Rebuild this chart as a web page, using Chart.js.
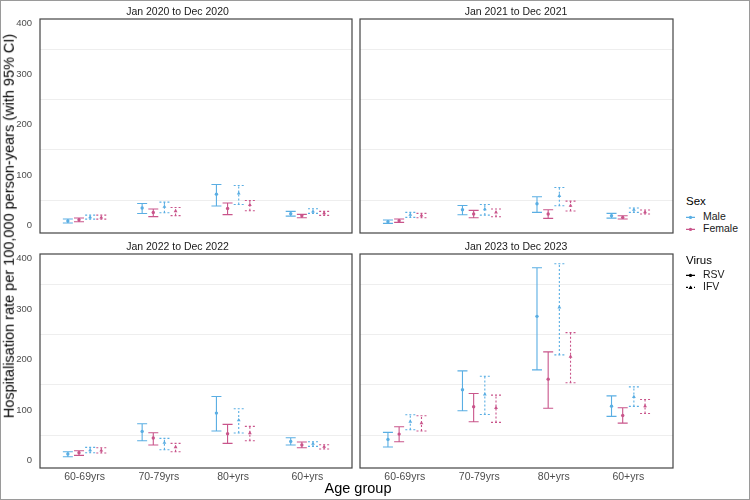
<!DOCTYPE html>
<html><head><meta charset="utf-8">
<script src="https://cdn.jsdelivr.net/npm/chart.js@4.4.1/dist/chart.umd.min.js"></script>
<style>
html,body{margin:0;padding:0;background:#fff;}
#wrap{position:relative;width:750px;height:500px;overflow:hidden;font-family:"Liberation Sans",Arial,sans-serif;background:#fff;}
.frame{position:absolute;left:0;top:0;width:750px;height:500px;box-sizing:border-box;border:1px solid #9a9a9a;pointer-events:none;}
.pc{position:absolute;}
.txt{position:absolute;white-space:nowrap;line-height:1;color:#000;}
.lg{position:absolute;left:686px;white-space:nowrap;font-size:10.5px;color:#1a1a1a;line-height:1;}
.lg svg{vertical-align:middle;margin-right:8px;}
</style></head><body>
<div id="wrap">
  <div class="pc" style="left:0px;top:0px;"><canvas id="c0" width="356" height="248"></canvas></div>
  <div class="pc" style="left:356px;top:0px;"><canvas id="c1" width="321" height="248"></canvas></div>
  <div class="pc" style="left:0px;top:234px;"><canvas id="c2" width="356" height="248"></canvas></div>
  <div class="pc" style="left:356px;top:234px;"><canvas id="c3" width="321" height="248"></canvas></div>
  <div class="txt" id="ytitle" style="font-size:14.5px;left:9px;top:226px;transform:translate(-50%,-50%) rotate(-90deg);">Hospitalisation rate per 100,000 person-years (with 95% CI)</div>
  <div class="txt" style="font-size:14.5px;left:358px;top:488px;transform:translate(-50%,-50%);">Age group</div>
  <div id="legend"></div>
  <div class="frame"></div>
</div>
<script>
// ---------- data (index: [period][age group]) ----------
const categories = ['60-69yrs', '70-79yrs', '80+yrs', '60+yrs'];
const periods = ['Jan 2020 to Dec 2020', 'Jan 2021 to Dec 2021', 'Jan 2022 to Dec 2022', 'Jan 2023 to Dec 2023'];
const yTickLabels = [0, 100, 200, 300, 400];

const rsvMaleEst   = [[9.2, 35, 62.5, 23.7], [7.9, 31.6, 43.4, 19.7], [13.2, 58, 94.3, 38.2], [42.2, 140.4, 286, 108]];
const rsvMaleLo    = [[5.3, 24, 39, 19], [4.6, 21.7, 26.3, 15], [7.9, 39.5, 58.7, 31], [27, 98.9, 180, 87.7]];
const rsvMaleHi    = [[13.2, 44, 81.6, 28.3], [11.2, 40, 57.2, 24.3], [17.8, 73.2, 127.2, 45.5], [56, 178, 382.3, 128.5]];
const rsvFemaleEst = [[11.8, 26, 34, 19.7], [9.9, 23, 23, 16.4], [15.8, 44.8, 53.4, 31], [52.7, 106.8, 161.5, 89.6]];
const rsvFemaleLo  = [[7.9, 18, 22, 15.8], [6.6, 15.8, 14.5, 13.2], [10.5, 31, 34.3, 25.7], [37.6, 77.1, 104, 74.5]];
const rsvFemaleHi  = [[15.1, 33, 45, 22.4], [13.2, 30.3, 31.6, 19.7], [19.8, 55.4, 71.9, 36.9], [67.2, 133.2, 215.6, 104.8]];
const ifvMaleEst   = [[17, 37.5, 64, 28.3], [21.7, 33, 59.2, 31.6], [21, 35.6, 80.4, 33.6], [77.1, 131.2, 303.9, 126.6]];
const ifvMaleLo    = [[13, 25.7, 42, 24.3], [16.4, 21, 39.5, 26.3], [15.8, 21.8, 54.7, 28.3], [61.3, 91.6, 209.6, 107.5]];
const ifvMaleHi    = [[21, 46.7, 79.6, 33.5], [26.3, 42, 75.7, 34.9], [26.4, 44.2, 102.8, 37.6], [91, 167.4, 390.2, 146.3]];
const ifvFemaleEst = [[16.5, 29, 41.4, 25], [20.4, 26.3, 39.5, 27], [20.4, 27, 54.7, 27.7], [74.5, 104.8, 206.3, 108.1]];
const ifvFemaleLo  = [[13, 20, 29.6, 20.4], [15.8, 17.8, 29, 23], [15.2, 17.8, 39.6, 23], [58.7, 75.8, 154.3, 93.6]];
const ifvFemaleHi  = [[21, 36, 50, 28.3], [24.3, 33, 48.7, 31], [25.7, 34.3, 67.9, 31.6], [89, 129.9, 253.8, 121.3]];

// ---------- styles ----------
const FONT = '"Liberation Sans", Arial, sans-serif';
const sexColors = { Male: '#5aaee3', Female: '#c9558b' };
const virusDash = { RSV: [], IFV: [2, 2] };
const virusPoint = { RSV: 'circle', IFV: 'triangle' };
const series = [
  { sex: 'Male',   virus: 'RSV', est: rsvMaleEst,   lo: rsvMaleLo,   hi: rsvMaleHi },
  { sex: 'Female', virus: 'RSV', est: rsvFemaleEst, lo: rsvFemaleLo, hi: rsvFemaleHi },
  { sex: 'Male',   virus: 'IFV', est: ifvMaleEst,   lo: ifvMaleLo,   hi: ifvMaleHi },
  { sex: 'Female', virus: 'IFV', est: ifvFemaleEst, lo: ifvFemaleLo, hi: ifvFemaleHi }
];
const dodgeWidth = 0.6;
const CAP = 5;

const errorBarPlugin = {
  id: 'errorBars',
  beforeDatasetsDraw(chart) {
    const { ctx, chartArea, scales: { x, y } } = chart;
    ctx.save();
    ctx.beginPath();
    ctx.rect(chartArea.left, chartArea.top, chartArea.width, chartArea.height);
    ctx.clip();
    chart.data.datasets.forEach(ds => {
      ctx.strokeStyle = ds.borderColor;
      ctx.lineWidth = 1.1;
      ctx.setLineDash(ds.errDash);
      ds.data.forEach(p => {
        const px = x.getPixelForValue(p.x);
        const pl = y.getPixelForValue(p.lo);
        const ph = y.getPixelForValue(p.hi);
        ctx.beginPath();
        ctx.moveTo(px, pl); ctx.lineTo(px, ph);
        ctx.moveTo(px - CAP, pl); ctx.lineTo(px + CAP, pl);
        ctx.moveTo(px - CAP, ph); ctx.lineTo(px + CAP, ph);
        ctx.stroke();
      });
    });
    ctx.restore();
  }
};
const frameBoxPlugin = {
  id: 'frameBox',
  afterDraw(chart) {
    const { ctx, chartArea: a } = chart;
    ctx.save();
    ctx.strokeStyle = '#444';
    ctx.lineWidth = 1.2;
    ctx.strokeRect(a.left, a.top, a.right - a.left, a.bottom - a.top);
    ctx.restore();
  }
};

function buildChart(id, p, showY, showX) {
  const datasets = series.map((s, k) => ({
    label: s.sex + ' ' + s.virus,
    data: categories.map((c, i) => ({
      x: i + 1 + (k - (series.length - 1) / 2) * (dodgeWidth / series.length),
      y: s.est[p][i], lo: s.lo[p][i], hi: s.hi[p][i]
    })),
    borderColor: sexColors[s.sex],
    backgroundColor: sexColors[s.sex],
    pointStyle: virusPoint[s.virus],
    pointRadius: s.virus === 'IFV' ? 2.2 : 1.7,
    pointBorderWidth: 0,
    showLine: false,
    errDash: virusDash[s.virus]
  }));
  const minor = yTickLabels.slice(0, -1).map((v, i) => (v + yTickLabels[i + 1]) / 2);
  return new Chart(document.getElementById(id), {
    type: 'scatter',
    data: { datasets },
    plugins: [errorBarPlugin, frameBoxPlugin],
    options: {
      responsive: false,
      animation: false,
      events: [],
      layout: { padding: { left: 0, right: 1, top: 0, bottom: 0 } },
      plugins: {
        legend: { display: false },
        tooltip: { enabled: false },
        title: {
          display: true, text: periods[p], color: '#1a1a1a',
          font: { family: FONT, size: 10.5, weight: 'normal' },
          padding: showX ? { top: 6.4, bottom: 1 } : { top: 5.6, bottom: 0.8 }
        }
      },
      scales: {
        x: {
          type: 'linear', min: 0.4, max: 4.6,
          afterBuildTicks: s => { s.ticks = categories.map((c, i) => ({ value: i + 1 })); },
          afterFit: s => { s.height = showX ? 14 : 15; },
          grid: { display: false, drawTicks: false },
          border: { display: false },
          ticks: {
            display: showX, padding: 3, color: '#4d4d4d', maxRotation: 0, autoSkip: false,
            font: { family: FONT, size: 10.5 },
            callback: v => categories[Math.round(v) - 1]
          }
        },
        y: {
          type: 'linear', min: -14.5, max: 409.5,
          afterBuildTicks: s => {
            s.ticks = yTickLabels.concat(minor).sort((a, b) => a - b).map(v => ({ value: v }));
          },
          afterFit: s => { s.width = showY ? 40 : 4; },
          grid: {
            drawTicks: false, lineWidth: 1,
            color: c => (yTickLabels.includes(c.tick.value) ? 'rgba(0,0,0,0)' : '#eeeeee')
          },
          border: { display: false },
          ticks: {
            display: showY, padding: 8, color: '#4d4d4d', autoSkip: false,
            font: { family: FONT, size: 9.5 },
            callback: v => (yTickLabels.includes(v) ? String(v) : '')
          }
        }
      }
    }
  });
}
buildChart('c0', 0, true, false);
buildChart('c1', 1, false, false);
buildChart('c2', 2, true, true);
buildChart('c3', 3, false, true);

// ---------- legend ----------
function keySvg(color, dash, shape) {
  const d = dash.length ? ` stroke-dasharray="${dash.join(',')}"` : '';
  const mark = shape === 'triangle'
    ? `<polygon points="4.5,3 6.6,6.6 2.4,6.6" fill="${color}"/>`
    : `<circle cx="4.5" cy="5" r="1.6" fill="${color}"/>`;
  return `<svg width="9" height="10" viewBox="0 0 9 10"><line x1="0" y1="5" x2="9" y2="5" stroke="${color}" stroke-width="1.1"${d}/>${mark}</svg>`;
}
const legendRows = [
  { title: 'Sex', top: 202 },
  { key: keySvg(sexColors.Male, [], 'circle'), text: 'Male', top: 217 },
  { key: keySvg(sexColors.Female, [], 'circle'), text: 'Female', top: 229 },
  { title: 'Virus', top: 261 },
  { key: keySvg('#000', virusDash.RSV, 'circle'), text: 'RSV', top: 275 },
  { key: keySvg('#000', virusDash.IFV, 'triangle'), text: 'IFV', top: 287 }
];
document.getElementById('legend').innerHTML = legendRows.map(r => r.title
  ? `<div class="lg" style="top:${r.top}px;font-size:11.5px;color:#000;transform:translateY(-50%);">${r.title}</div>`
  : `<div class="lg" style="top:${r.top}px;transform:translateY(-50%);">${r.key}${r.text}</div>`).join('');
</script>
</body></html>
